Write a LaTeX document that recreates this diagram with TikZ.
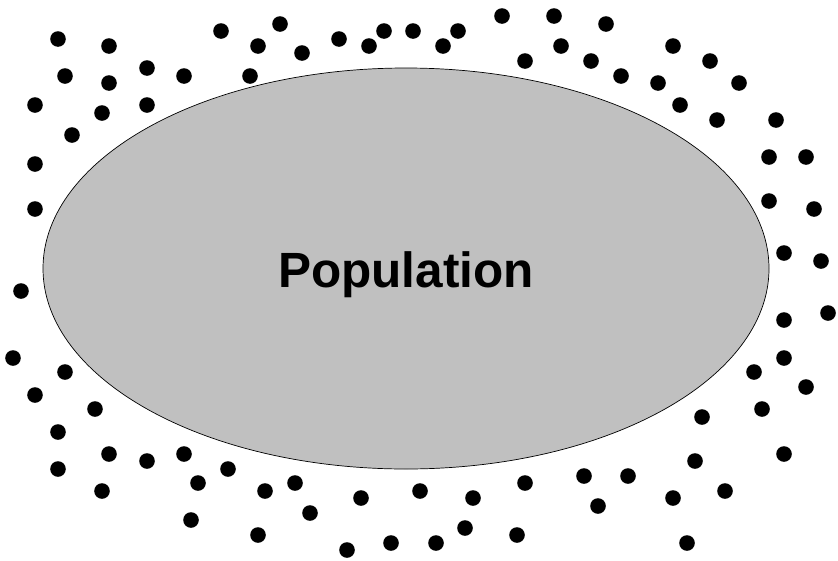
\documentclass[tikz,border=0pt]{standalone}
\usepackage{fontspec}
\setmainfont{Liberation Sans}
\begin{document}
\begin{tikzpicture}[x=1pt,y=-1pt,
  dot/.style={fill=black},
  popshape/.style={fill={rgb,255:red,192;green,192;blue,192},draw=black,line width=0.7pt}]
\useasboundingbox (0,0) rectangle (838,560);
\filldraw[popshape] (406,268.5) ellipse [x radius=363, y radius=200.5];
\node (pop) at (406,275) {\fontsize{49.5}{58}\selectfont\bfseries Population};
\foreach \px/\py in {58/39,109/46,221/31,280/24,258/46,302/53,339/39,369/46,384/31,413/31,
  65/76,109/83,147/68,184/76,250/76,35/105,102/113,147/105,72/135,35/164,35/209,
  458/31,443/46,502/16,554/16,606/24,525/61,561/46,591/61,621/76,658/83,673/46,710/61,739/83,
  680/105,717/120,776/120,769/157,806/157,769/201,814/209,784/253,821/261,
  21/291,13/358,65/372,35/395,95/409,58/432,109/454,147/461,184/454,228/469,58/469,102/491,
  198/483,265/491,295/483,361/498,420/491,191/520,310/513,258/535,347/550,391/543,
  473/498,525/483,584/476,628/476,598/506,673/498,725/491,695/461,702/417,784/454,762/409,
  806/387,754/372,784/358,784/320,828/313,436/543,465/528,517/535,687/543}
  \fill[dot] (\px,\py) circle [radius=7.8];
\end{tikzpicture}
\end{document}
